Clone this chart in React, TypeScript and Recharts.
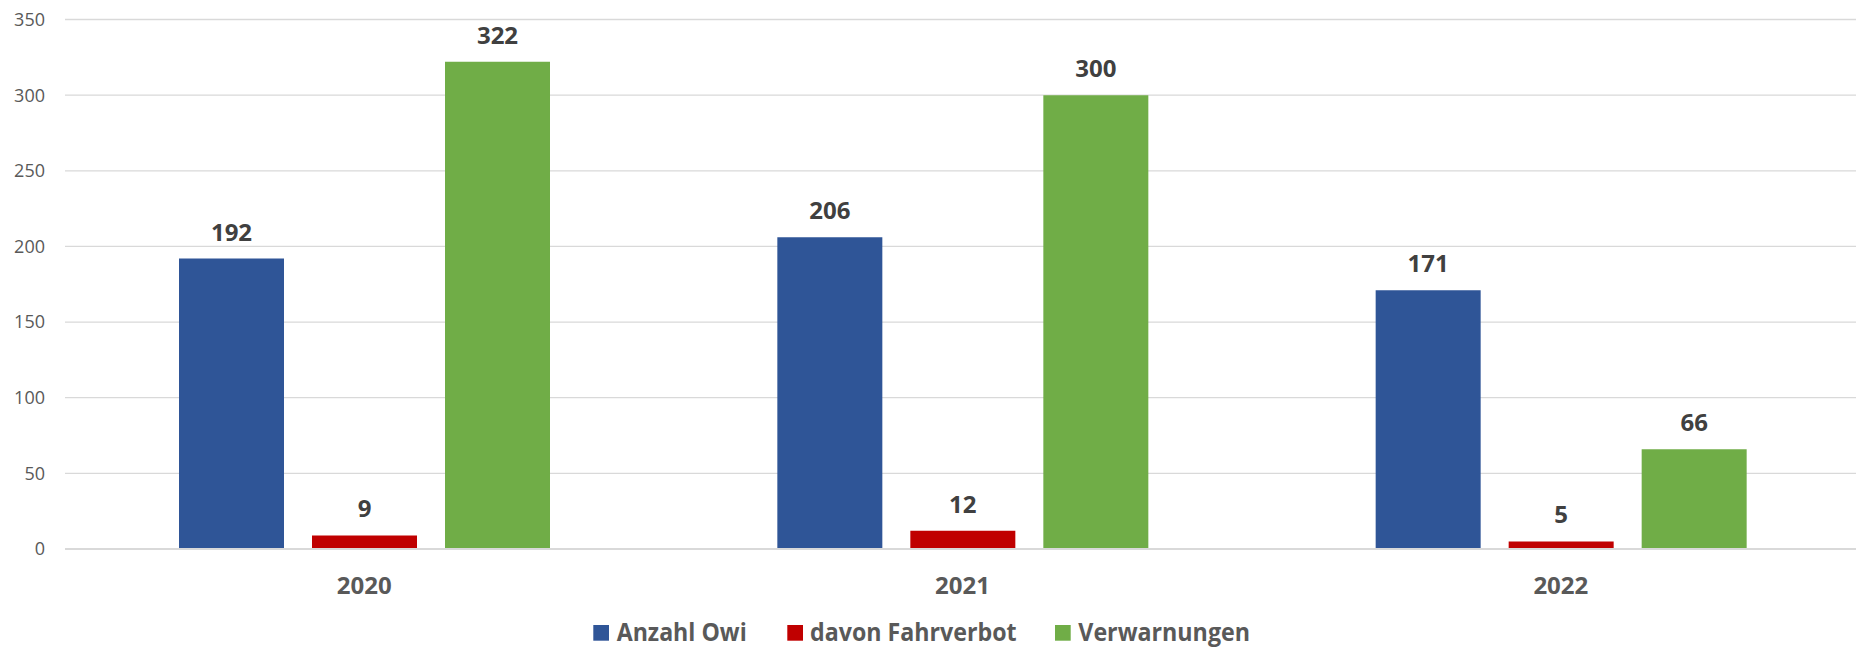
import React from 'react';
import { BarChart, Bar, XAxis, YAxis, CartesianGrid, LabelList, Legend } from 'recharts';

const categories = ['2020', '2021', '2022'];
const anzahlOwi = [192, 206, 171];
const davonFahrverbot = [9, 12, 5];
const verwarnungen = [322, 300, 66];
const yTicks = [0, 50, 100, 150, 200, 250, 300, 350];
const seriesNames = ['Anzahl Owi', 'davon Fahrverbot', 'Verwarnungen'];
const seriesColors = ['#2F5597', '#C00000', '#70AD47'];

const data = categories.map((c, i) => ({
  year: c,
  owi: anzahlOwi[i],
  fahrverbot: davonFahrverbot[i],
  verwarnungen: verwarnungen[i],
}));

const FONT = '"Open Sans", sans-serif';

const legendLayout = [
  { sx: 13.3, tx: 36.7, len: 130 },
  { sx: 207.3, tx: 230, len: 206.7 },
  { sx: 475, tx: 498.3, len: 171.7 },
];

const CustomLegend = () => (
  <svg width={700} height={47} style={{ display: 'block' }}>
    {seriesNames.map((n, i) => (
      <g key={n}>
        <rect x={legendLayout[i].sx} y={25} width={15.7} height={15.7} fill={seriesColors[i]} />
        <text
          x={legendLayout[i].tx}
          y={40.7}
          fontFamily={FONT}
          fontWeight={700}
          fontSize={24.4}
          fill="#595959"
          textLength={legendLayout[i].len}
          lengthAdjust="spacingAndGlyphs"
        >
          {n}
        </text>
      </g>
    ))}
  </svg>
);

const labelStyle = { fontFamily: FONT, fontWeight: 700, fontSize: 24, fill: '#404040' };

export default function App() {
  return (
    <div style={{ position: 'absolute', left: 0, top: 0, width: 1856, height: 647, overflow: 'hidden', background: '#fff' }}>
      <BarChart
        width={1870}
        height={647}
        data={data}
        margin={{ top: 19.5, right: 10, left: 0, bottom: 38 }}
        barCategoryGap={114}
        barGap={28}
      >
        <CartesianGrid vertical={false} stroke="#D9D9D9" strokeWidth={1.3} />
        <XAxis
          dataKey="year"
          height={60}
          tickLine={false}
          tickSize={0}
          tickMargin={28}
          axisLine={{ stroke: '#D9D9D9', strokeWidth: 2 }}
          tick={{ fontFamily: FONT, fontWeight: 700, fontSize: 24, fill: '#595959' }}
        />
        <YAxis
          width={65}
          domain={[0, 350]}
          ticks={yTicks}
          tickLine={false}
          tickSize={0}
          tickMargin={20}
          axisLine={false}
          tick={{ fontFamily: FONT, fontSize: 18, fill: '#595959' }}
        />
        <Legend
          layout="vertical"
          align="center"
          verticalAlign="middle"
          content={<CustomLegend />}
          wrapperStyle={{ position: 'absolute', left: 580, top: 600, width: 700, height: 47 }}
        />
        <Bar dataKey="owi" name={seriesNames[0]} fill={seriesColors[0]} isAnimationActive={false}>
          <LabelList dataKey="owi" position="top" offset={18} style={labelStyle} />
        </Bar>
        <Bar dataKey="fahrverbot" name={seriesNames[1]} fill={seriesColors[1]} isAnimationActive={false}>
          <LabelList dataKey="fahrverbot" position="top" offset={18} style={labelStyle} />
        </Bar>
        <Bar dataKey="verwarnungen" name={seriesNames[2]} fill={seriesColors[2]} isAnimationActive={false}>
          <LabelList dataKey="verwarnungen" position="top" offset={18} style={labelStyle} />
        </Bar>
      </BarChart>
    </div>
  );
}
